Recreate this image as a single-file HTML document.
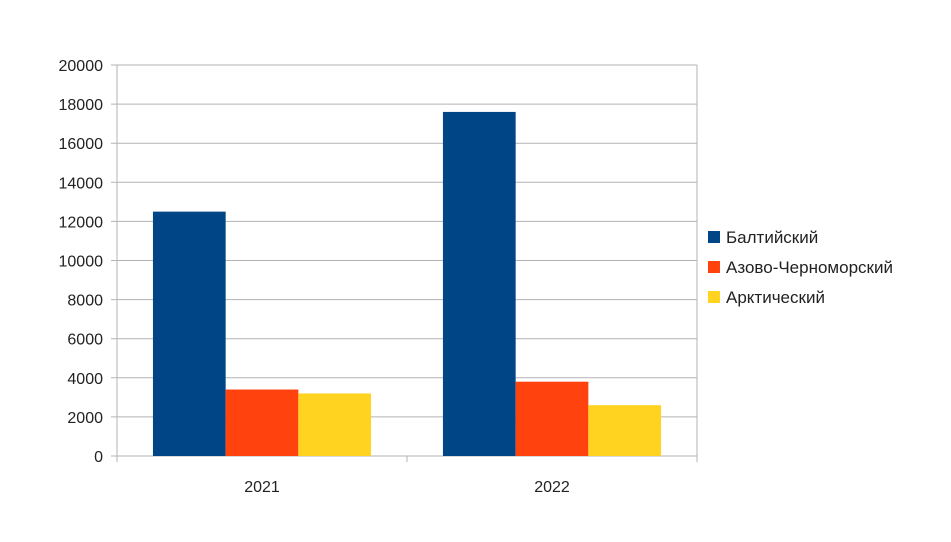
<!DOCTYPE html>
<html><head><meta charset="utf-8"><style>
body{margin:0;background:#fff;}
svg text{font-family:"Liberation Sans",Arial,sans-serif;fill:#222;}
</style></head><body>
<svg width="951" height="537" xmlns="http://www.w3.org/2000/svg">
<g id="grid"></g>
<g id="bars"></g>
<g id="axes"></g>
<g id="legend"></g>
</svg>
<script>
const categories = ["2021", "2022"];
const seriesNames = ["Балтийский", "Азово-Черноморский", "Арктический"];
const baltic = [12500, 17600];
const azov = [3400, 3800];
const arctic = [3200, 2600];
const yTicks = [0,2000,4000,6000,8000,10000,12000,14000,16000,18000,20000];
const colors = ["#004586","#ff420e","#ffd320"];
const series = [baltic, azov, arctic];
const NS="http://www.w3.org/2000/svg";
const x0=117,x1=697,yBase=456,yTop=65,yMax=20000;
const y=v=>yBase-(v/yMax)*(yBase-yTop);
const catW=(x1-x0)/categories.length;
const barW=72.7, groupPad=(catW-barW*3)/2;
function mk(tag,attrs,parent){const e=document.createElementNS(NS,tag);for(const k in attrs)e.setAttribute(k,attrs[k]);parent.appendChild(e);return e;}
const grid=document.getElementById('grid'),bars=document.getElementById('bars'),axes=document.getElementById('axes'),legend=document.getElementById('legend');
yTicks.forEach(t=>{
  const l=mk('line',{x1:x0-6,x2:x1,y1:y(t),y2:y(t),stroke:'#b3b3b3','stroke-width':1},grid);
  
  
  const tx=mk('text',{x:x0-14,y:y(t)+6,'text-anchor':'end','font-size':16},axes);
  tx.textContent=t;
  
  
});
mk('line',{x1:x0,x2:x0,y1:yTop,y2:yBase+6,stroke:'#b3b3b3'},grid);
mk('line',{x1:x1,x2:x1,y1:yTop,y2:yBase+6,stroke:'#b3b3b3'},grid);
mk('line',{x1:x0+catW,x2:x0+catW,y1:yBase,y2:yBase+6,stroke:'#b3b3b3'},grid);
categories.forEach((c,i)=>{
  series.forEach((s,j)=>{
    const bx=x0+i*catW+groupPad+j*barW;
    const r=mk('rect',{x:bx,y:y(s[i]),width:barW,height:yBase-y(s[i]),fill:colors[j]},bars);
    
    
  });
  const t=mk('text',{x:x0+i*catW+catW/2,y:yBase+36,'text-anchor':'middle','font-size':16},axes);
  t.textContent=c;
  
  
});
seriesNames.forEach((n,j)=>{
  const ly=237+j*30;
  const r=mk('rect',{x:708,y:ly-6,width:12,height:12,fill:colors[j]},legend);
  
  
  const t=mk('text',{x:726,y:ly+6,'font-size':17},legend);
  t.textContent=n;
  
  
});
</script>
</body></html>
